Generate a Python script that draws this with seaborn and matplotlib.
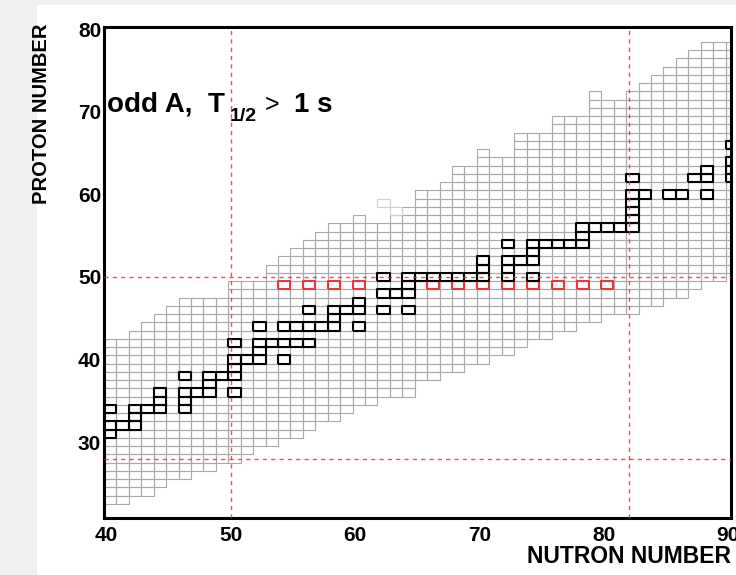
import numpy as np
import pandas as pd
import matplotlib
matplotlib.use("Agg")
import matplotlib.pyplot as plt
import seaborn as sns

# ---------------- data ----------------
grey_N = list(range(40, 91))
grey_zmin = [23, 23, 24, 24, 25, 26, 26, 27, 27, 28,
             28, 29, 30, 30, 31, 31, 32, 33, 33, 34,
             35, 35, 36, 36, 36, 38, 38, 39, 39, 40,
             40, 41, 41, 42, 43, 43, 44, 44, 45, 45,
             46, 46, 46, 47, 47, 48, 48, 49, 50, 50,
             51]
grey_zmax = [42, 42, 43, 44, 45, 46, 47, 47, 47, 47,
             49, 49, 49, 51, 52, 53, 54, 55, 56, 56,
             57, 56, 56, 57, 58, 60, 60, 61, 63, 63,
             65, 64, 64, 67, 67, 67, 69, 69, 69, 72,
             71, 71, 72, 73, 74, 75, 76, 77, 78, 78,
             78]
faint_N = [62, 63]
faint_Z = [59, 58]

black_N = [40, 40, 40, 41, 42, 42, 42, 43, 44, 44, 44,
           46, 46, 46, 46, 47, 48, 48, 48, 49,
           50, 50, 50, 50, 50, 51, 52, 52, 52, 52, 53,
           54, 54, 54, 55, 55, 56, 56, 56, 57, 58, 58, 58, 59,
           60, 60, 60, 62, 62, 62, 63, 64, 64, 64, 64,
           65, 66, 67, 68, 69, 70, 70, 70, 72, 72, 72, 72, 73,
           74, 74, 74, 74, 75, 76, 77, 78, 78, 78, 79, 80, 81,
           82, 82, 82, 82, 82, 82, 83, 85, 86, 87, 88, 88, 88,
           90, 90, 90, 90]
black_Z = [34, 32, 31, 32, 34, 33, 32, 34, 36, 35, 34,
           38, 36, 35, 34, 36, 38, 37, 36, 38,
           42, 40, 39, 38, 36, 40, 44, 42, 41, 40, 42,
           44, 42, 40, 44, 42, 46, 44, 42, 44, 46, 45, 44, 46,
           47, 46, 44, 50, 48, 46, 48, 50, 49, 48, 46,
           50, 50, 50, 50, 50, 52, 51, 50, 54, 52, 51, 50, 52,
           54, 53, 52, 50, 54, 54, 54, 56, 55, 54, 56, 56, 56,
           62, 60, 59, 58, 57, 56, 60, 60, 60, 62, 63, 62, 60,
           66, 64, 63, 62]

red_N = [54, 56, 58, 60, 66, 68, 70, 72, 74, 76, 78, 80]
red_Z = [49] * len(red_N)

magic_N = [50, 82]
magic_Z = [50, 28]

x_ticks = [40, 50, 60, 70, 80, 90]
y_ticks = [30, 40, 50, 60, 70, 80]

# ---------------- build tables ----------------
gN, gZ = [], []
for n, lo, hi in zip(grey_N, grey_zmin, grey_zmax):
    for z in range(lo, hi + 1):
        gN.append(n)
        gZ.append(z)
XOFF = 0.28  # cell centre offset relative to the N value
grey_df = pd.DataFrame({"N": np.array(gN) + XOFF, "Z": gZ})
faint_df = pd.DataFrame({"N": np.array(faint_N) + XOFF, "Z": faint_Z})
black_df = pd.DataFrame({"N": np.array(black_N) + XOFF, "Z": black_Z})
red_df = pd.DataFrame({"N": np.array(red_N) + XOFF, "Z": red_Z})

# ---------------- style ----------------
sns.set_theme(style="white")
plt.rcParams["font.family"] = ["Liberation Sans", "DejaVu Sans"]
plt.rcParams["font.weight"] = "bold"
plt.rcParams["text.color"] = "black"
plt.rcParams["xtick.color"] = "black"
plt.rcParams["ytick.color"] = "black"
plt.rcParams["axes.labelcolor"] = "black"

W, H = 736, 575
fig = plt.figure(figsize=(W / 100, H / 100), dpi=100)
fig.patch.set_facecolor("white")
# light grey frame strips (as in the reference screenshot)
fig.add_artist(plt.Rectangle((0, 0), 37 / W, 1, transform=fig.transFigure,
                             facecolor="#efefef", edgecolor="none", zorder=-10))
fig.add_artist(plt.Rectangle((0, 1 - 5 / H), 1, 5 / H, transform=fig.transFigure,
                             facecolor="#efefef", edgecolor="none", zorder=-10))

ax = fig.add_axes([104 / W, 57 / H, 627 / W, 491 / H])
ax.set_facecolor("white")
ax.set_xlim(39.78, 90.22)
ax.set_ylim(20.79, 80.3)

# rectangular cell marker: 1 unit in N by 1 unit in Z
px_x = 627 / (90.22 - 39.78)
px_y = 491 / (80.3 - 20.79)
ratio = px_y / px_x
cell = [(-0.5, -ratio / 2), (0.5, -ratio / 2), (0.5, ratio / 2), (-0.5, ratio / 2), (-0.5, -ratio / 2)]
size = (px_x * 0.72) ** 2

sns.scatterplot(data=grey_df, x="N", y="Z", marker=cell, s=size, facecolor="none",
                edgecolor="#a9a9a9", linewidth=0.8, ax=ax, zorder=2, legend=False)
sns.scatterplot(data=faint_df, x="N", y="Z", marker=cell, s=size, facecolor="none",
                edgecolor="#d0d0d0", linewidth=0.8, ax=ax, zorder=2, legend=False)
sns.scatterplot(data=red_df, x="N", y="Z", marker=cell, s=size * 0.92, facecolor="none",
                edgecolor="#e8383d", linewidth=1.5, ax=ax, zorder=3, legend=False)
sns.scatterplot(data=black_df, x="N", y="Z", marker=cell, s=size, facecolor="none",
                edgecolor="black", linewidth=1.5, ax=ax, zorder=4, legend=False)

for n in magic_N:
    ax.axvline(n, color="#ff2a2a", lw=1.0, ls=(0, (3, 3)), zorder=5, alpha=0.85)
for z in magic_Z:
    ax.axhline(z, color="#ff2a2a", lw=1.0, ls=(0, (3, 3)), zorder=5, alpha=0.85)

# axes cosmetics
for sp in ax.spines.values():
    sp.set_linewidth(2.2)
    sp.set_color("black")
ax.set_xticks(x_ticks)
ax.set_yticks(y_ticks)
ax.set_xticks(np.arange(40, 91, 2), minor=True)
ax.set_yticks(np.arange(22, 81, 2), minor=True)
ax.tick_params(which="major", direction="in", length=9.5, width=1.0, color="black",
               labelsize=15, labelcolor="black")
ax.tick_params(axis="y", which="major", pad=2)
ax.tick_params(axis="x", which="major", pad=6)
ax.tick_params(which="minor", direction="in", length=5, width=0.9, color="black")
ax.tick_params(axis="both", which="both", top=False, right=False)
for lab in ax.get_xticklabels() + ax.get_yticklabels():
    lab.set_fontweight("bold")
ax.set_xlabel("")
ax.set_ylabel("")

fig.text(731 / W, 1 - 568 / H, "NUTRON NUMBER", ha="right", va="bottom",
         fontsize=16.5, fontweight="bold")
fig.text(42 / W, 1 - 24 / H, "PROTON NUMBER", ha="center", va="top", rotation=90,
         fontsize=14.5, fontweight="bold")

# title built from pieces so the subscript sits like in the reference
fig.text(107 / W, 1 - 112 / H, "odd A,  T", ha="left", va="baseline",
         fontsize=20, fontweight="bold")
fig.text(230 / W, 1 - 121 / H, "1/2", ha="left", va="baseline",
         fontsize=14, fontweight="bold")
fig.text(265 / W, 1 - 112 / H, ">", ha="left", va="baseline",
         fontsize=18, fontweight="normal")
fig.text(294 / W, 1 - 112 / H, "1 s", ha="left", va="baseline",
         fontsize=20, fontweight="bold")

fig.savefig("out.png", dpi=100, facecolor=fig.get_facecolor())
